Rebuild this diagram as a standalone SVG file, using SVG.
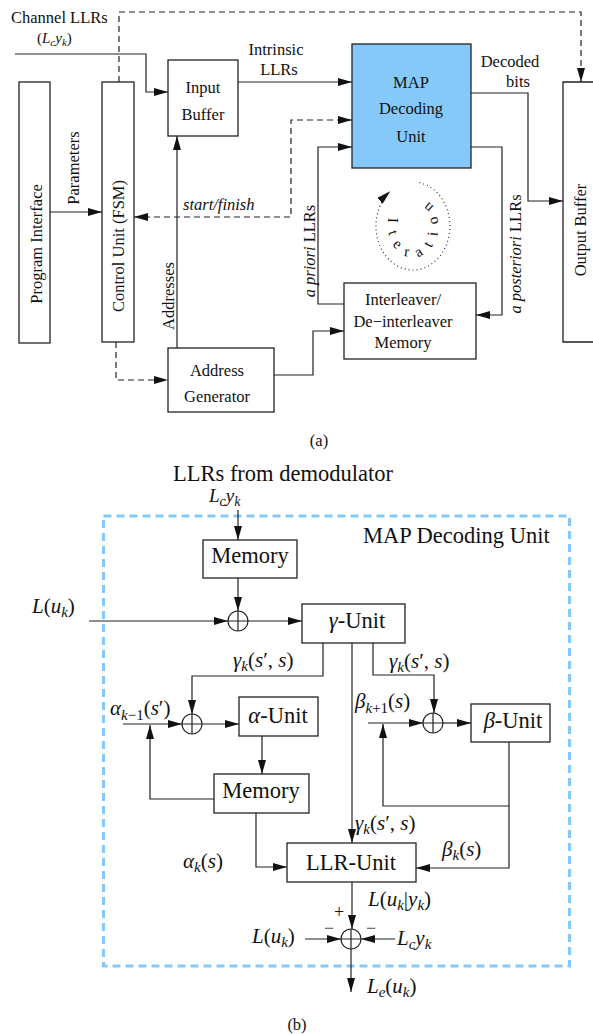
<svg xmlns="http://www.w3.org/2000/svg" xmlns:xlink="http://www.w3.org/1999/xlink" width="593" height="1034" viewBox="0 0 593 1034" font-family="'Liberation Serif', 'DejaVu Serif', serif">
<style>
text{font-family:'Liberation Serif','DejaVu Serif',serif;fill:#111}
.a{font-size:16.5px}
.b{font-size:22.5px}
.m{font-size:21px}
.i{font-style:italic}
.c{text-anchor:middle}
.box{fill:#fff;stroke:#222;stroke-width:1.3}
.ln{fill:none;stroke:#222;stroke-width:1.2}
.dash{fill:none;stroke:#222;stroke-width:1.2;stroke-dasharray:6 4}
.circ{fill:#fff;stroke:#222;stroke-width:1.2}
</style>
<defs>
<marker id="ar" markerUnits="userSpaceOnUse" markerWidth="14" markerHeight="8" refX="14" refY="4" orient="auto"><path d="M0,0 L14,4 L0,8 z" fill="#111"/></marker>
<marker id="as" markerUnits="userSpaceOnUse" markerWidth="14" markerHeight="8" refX="0" refY="4" orient="auto"><path d="M14,0 L0,4 L14,8 z" fill="#111"/></marker>
<path id="itp" d="M388.9 218 A25 31 0 1 0 417.3 195.5"/>
</defs>

<!-- ===== Part (a) ===== -->
<g id="program-interface"><rect class="box" x="19" y="82" width="31" height="261"/><text class="a c" transform="translate(41.5,244) rotate(-90)">Program Interface</text></g>
<g id="control-unit"><rect class="box" x="102" y="82" width="32" height="260"/><text class="a c" transform="translate(123.5,246) rotate(-90)">Control Unit (FSM)</text></g>
<g id="input-buffer"><rect class="box" x="168" y="60" width="70" height="76"/><text class="a c" x="203" y="93">Input</text><text class="a c" x="203" y="120">Buffer</text></g>
<g id="map-unit"><rect x="352" y="44" width="119" height="124" fill="#85c9fa" stroke="#222" stroke-width="1.3"/><text class="a c" x="411" y="88">MAP</text><text class="a c" x="411" y="114">Decoding</text><text class="a c" x="411" y="142">Unit</text></g>
<g id="output-buffer"><path d="M600 82 H563 V342 H600" fill="#fff" stroke="#222" stroke-width="1.3"/><text class="a c" transform="translate(585.5,230) rotate(-90)">Output Buffer</text></g>
<g id="interleaver"><rect class="box" x="344" y="283" width="132" height="76"/><text class="a c" x="403" y="305">Interleaver/</text><text class="a c" x="403" y="327">De−interleaver</text><text class="a c" x="403" y="348">Memory</text></g>
<g id="address-generator"><rect class="box" x="168" y="348" width="106" height="64"/><text class="a c" x="217" y="376">Address</text><text class="a c" x="217" y="402">Generator</text></g>

<g id="iteration">
<path d="M419.4 182.7 A37 44 0 1 1 390.2 191.3" fill="none" stroke="#333" stroke-width="1.2" stroke-dasharray="1 3" marker-end="url(#ar)"/>
<text style="font-size:15px;letter-spacing:9px"><textPath xlink:href="#itp" href="#itp">Iteration</textPath></text>
</g>

<g id="connectors-a">
<path class="ln" d="M15 54 H146 V92 H168" marker-end="url(#ar)"/>
<path class="ln" d="M238 82 H352" marker-end="url(#ar)"/>
<path class="ln" d="M471 93 H528 V201 H563" marker-end="url(#ar)"/>
<path class="ln" d="M471 147 H502 V315 H476" marker-end="url(#ar)"/>
<path class="ln" d="M344 304 H318 V147 H352" marker-end="url(#ar)"/>
<path class="ln" d="M274 375 H313 V331 H344" marker-end="url(#ar)"/>
<path class="ln" d="M177 348 V136" marker-end="url(#ar)"/>
<path class="ln" d="M50 212 H102" marker-end="url(#ar)"/>
<path class="dash" d="M119 82 V12 H581 V82" marker-end="url(#ar)"/>
<path class="dash" d="M134 217 H291 V120 H352" marker-start="url(#as)" marker-end="url(#ar)"/>
<path class="dash" d="M116 342 V380 H168" marker-end="url(#ar)"/>
</g>

<g id="labels-a">
<text class="a" x="11" y="23">Channel LLRs</text>
<text class="a" x="37" y="43" style="font-size:15px">(<tspan class="i">L</tspan><tspan class="i" font-size="11" dy="3">c</tspan><tspan class="i" dy="-3">y</tspan><tspan class="i" font-size="11" dy="3">k</tspan><tspan dy="-3">)</tspan></text>
<text class="a c" x="276" y="55">Intrinsic</text>
<text class="a c" x="279" y="75">LLRs</text>
<text class="a c" x="510" y="67">Decoded</text>
<text class="a c" x="518" y="87">bits</text>
<text class="a c" transform="translate(78.5,168) rotate(-90)">Parameters</text>
<text class="a c" transform="translate(173.5,296) rotate(-90)">Addresses</text>
<text class="a i" x="183" y="210">start/finish</text>
<text class="a c" transform="translate(315,251) rotate(-90)"><tspan class="i">a priori</tspan> LLRs</text>
<text class="a c" transform="translate(521,254) rotate(-90)"><tspan class="i">a posteriori</tspan> LLRs</text>
<text class="a c" x="319" y="446">(a)</text>
</g>

<!-- ===== Part (b) ===== -->
<rect id="map-boundary" x="103.5" y="516" width="466" height="450" fill="none" stroke="#85c9fa" stroke-width="3" stroke-dasharray="8 5"/>

<g id="memory-top"><rect class="box" x="203" y="540" width="94" height="38"/><text class="b c" x="250" y="563">Memory</text></g>
<g id="sum-top"><circle class="circ" cx="238" cy="621" r="10"/><path class="ln" d="M228 621 H248 M238 611 V631"/></g>
<g id="gamma-unit"><rect class="box" x="302" y="604" width="103" height="39"/><text class="b c" x="357" y="628"><tspan class="i">γ</tspan>-Unit</text></g>
<g id="sum-alpha"><circle class="circ" cx="192" cy="724" r="10"/><path class="ln" d="M182 724 H202 M192 714 V734"/></g>
<g id="alpha-unit"><rect class="box" x="239" y="697" width="79" height="39"/><text class="b c" x="278" y="723"><tspan class="i">α</tspan>-Unit</text></g>
<g id="memory-alpha"><rect class="box" x="214" y="774" width="95" height="39"/><text class="b c" x="261" y="798">Memory</text></g>
<g id="sum-beta"><circle class="circ" cx="433" cy="723" r="10"/><path class="ln" d="M423 723 H443 M433 713 V733"/></g>
<g id="beta-unit"><rect class="box" x="471" y="704" width="79" height="38"/><text class="b c" x="513" y="728"><tspan class="i">β</tspan>-Unit</text></g>
<g id="llr-unit"><rect class="box" x="287" y="843" width="129" height="39"/><text class="b c" x="351" y="870">LLR-Unit</text></g>
<g id="sum-out"><circle class="circ" cx="351" cy="939" r="10"/><path class="ln" d="M341 939 H361 M351 929 V949"/></g>

<g id="connectors-b">
<path class="ln" d="M238 510 V540" marker-end="url(#ar)"/>
<path class="ln" d="M238 578 V611" marker-end="url(#ar)"/>
<path class="ln" d="M89 621 H228" marker-end="url(#ar)"/>
<path class="ln" d="M248 621 H302" marker-end="url(#ar)"/>
<path class="ln" d="M323 643 V676 H192 V714" marker-end="url(#ar)"/>
<path class="ln" d="M373 643 V675 H434 V713" marker-end="url(#ar)"/>
<path class="ln" d="M352 643 V843" marker-end="url(#ar)"/>
<path class="ln" d="M123 724 H182" marker-end="url(#ar)"/>
<path class="ln" d="M214 799 H150 V725" marker-end="url(#ar)"/>
<path class="ln" d="M202 724 H239" marker-end="url(#ar)"/>
<path class="ln" d="M262 736 V774" marker-end="url(#ar)"/>
<path class="ln" d="M256 813 V867 H287" marker-end="url(#ar)"/>
<path class="ln" d="M368 723 H423" marker-end="url(#ar)"/>
<path class="ln" d="M443 723 H471" marker-end="url(#ar)"/>
<path class="ln" d="M509 742 V868 H416" marker-end="url(#ar)"/>
<path class="ln" d="M509 806 H383 V724" marker-end="url(#ar)"/>
<path class="ln" d="M352 882 V929" marker-end="url(#ar)"/>
<path class="ln" d="M305 939 H341" marker-end="url(#ar)"/>
<path class="ln" d="M395 939 H361" marker-end="url(#ar)"/>
<path class="ln" d="M351 949 V992" marker-end="url(#ar)"/>
</g>

<g id="labels-b">
<text class="b" x="173" y="481">LLRs from demodulator</text>
<text class="i" x="209" y="502" style="font-size:19px">L<tspan font-size="14" dy="4">c</tspan><tspan dy="-4">y</tspan><tspan font-size="14" dy="4">k</tspan></text>
<text class="b" x="363" y="543">MAP Decoding Unit</text>
<text class="m" x="32" y="613"><tspan class="i">L</tspan>(<tspan class="i">u</tspan><tspan class="i" font-size="15" dy="4">k</tspan><tspan dy="-4">)</tspan></text>
<text class="m" x="233" y="667"><tspan class="i">γ</tspan><tspan class="i" font-size="15" dy="4">k</tspan><tspan dy="-4">(</tspan><tspan class="i">s</tspan>′, <tspan class="i">s</tspan>)</text>
<text class="m" x="389" y="668"><tspan class="i">γ</tspan><tspan class="i" font-size="15" dy="4">k</tspan><tspan dy="-4">(</tspan><tspan class="i">s</tspan>′, <tspan class="i">s</tspan>)</text>
<text class="m" x="355" y="830"><tspan class="i">γ</tspan><tspan class="i" font-size="15" dy="4">k</tspan><tspan dy="-4">(</tspan><tspan class="i">s</tspan>′, <tspan class="i">s</tspan>)</text>
<text class="m" x="110" y="715"><tspan class="i">α</tspan><tspan class="i" font-size="15" dy="5">k</tspan><tspan font-size="15">−1</tspan><tspan dy="-5">(</tspan><tspan class="i">s</tspan>′)</text>
<text class="m" x="355" y="708"><tspan class="i">β</tspan><tspan class="i" font-size="15" dy="5">k</tspan><tspan font-size="15">+1</tspan><tspan dy="-5">(</tspan><tspan class="i">s</tspan>)</text>
<text class="m" x="183" y="868"><tspan class="i">α</tspan><tspan class="i" font-size="15" dy="4">k</tspan><tspan dy="-4">(</tspan><tspan class="i">s</tspan>)</text>
<text class="m" x="442" y="856"><tspan class="i">β</tspan><tspan class="i" font-size="15" dy="4">k</tspan><tspan dy="-4">(</tspan><tspan class="i">s</tspan>)</text>
<text class="m" x="368" y="906"><tspan class="i">L</tspan>(<tspan class="i">u</tspan><tspan class="i" font-size="15" dy="4">k</tspan><tspan dy="-4">|</tspan><tspan class="i">y</tspan><tspan class="i" font-size="15" dy="4">k</tspan><tspan dy="-4">)</tspan></text>
<text class="m c" x="339" y="918" style="font-size:18px">+</text>
<text class="m c" x="329" y="934" style="font-size:18px;fill:#555">−</text>
<text class="m c" x="371" y="934" style="font-size:18px;fill:#555">−</text>
<text class="m" x="252" y="943"><tspan class="i">L</tspan>(<tspan class="i">u</tspan><tspan class="i" font-size="15" dy="4">k</tspan><tspan dy="-4">)</tspan></text>
<text class="m i" x="397" y="945">L<tspan font-size="15" dy="4">c</tspan><tspan dy="-4">y</tspan><tspan font-size="15" dy="4">k</tspan></text>
<text class="m" x="367" y="993"><tspan class="i">L</tspan><tspan class="i" font-size="15" dy="4">e</tspan><tspan dy="-4">(</tspan><tspan class="i">u</tspan><tspan class="i" font-size="15" dy="4">k</tspan><tspan dy="-4">)</tspan></text>
<text class="a c" x="297" y="1030">(b)</text>
</g>
</svg>
